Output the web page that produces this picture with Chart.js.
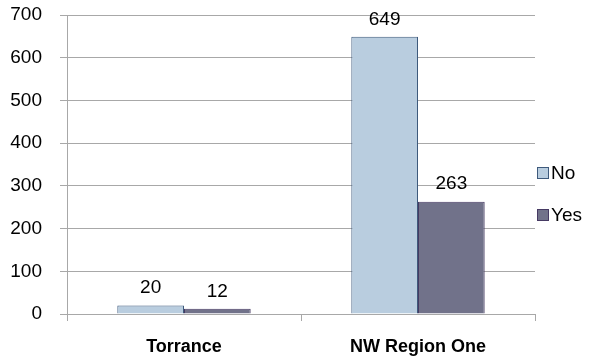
<!DOCTYPE html>
<html>
<head>
<meta charset="utf-8">
<script src="https://cdn.jsdelivr.net/npm/chart.js@4/dist/chart.umd.min.js"></script>
<style>
  body { margin: 0; background: #fff; }
  #wrap { position: relative; width: 591px; height: 362px; }
  #legend { position: absolute; left: 537px; top: 162px; font: 19px "Liberation Sans", Arial, sans-serif; color: #000; }
  .item { display: flex; align-items: center; height: 21px; margin-bottom: 21px; }
  .box { width: 12px; height: 12px; margin-right: 2px; box-sizing: border-box; border: 1px solid; }
</style>
</head>
<body>
<div id="wrap">
  <canvas id="chart" width="591" height="362"></canvas>
  <div id="legend"></div>
</div>
<script>
const categories = ['Torrance', 'NW Region One'];
const noValues = [20, 649];
const yesValues = [12, 263];
const yTicks = [0, 100, 200, 300, 400, 500, 600, 700];

const noColor = '#b9cddf', noBorder = '#3e5a7c';
const yesColor = '#71728a', yesBorder = '#463a63';
const gridColor = '#a8a8a8';
const font = '"Liberation Sans", Arial, sans-serif';

// value labels above each bar
const barLabels = {
  id: 'barLabels',
  afterDatasetsDraw(chart) {
    const ctx = chart.ctx;
    ctx.save();
    ctx.font = '19px ' + font;
    ctx.fillStyle = '#000';
    ctx.textAlign = 'center';
    ctx.textBaseline = 'bottom';
    chart.data.datasets.forEach((ds, i) => {
      chart.getDatasetMeta(i).data.forEach((bar, j) => {
        ctx.fillText(ds.data[j], bar.x, bar.y - 8);
      });
    });
    ctx.restore();
  }
};

const chart = new Chart(document.getElementById('chart'), {
  type: 'bar',
  data: {
    labels: categories,
    datasets: [
      { label: 'No', data: noValues, backgroundColor: noColor, borderColor: noBorder, borderWidth: 1 },
      { label: 'Yes', data: yesValues, backgroundColor: yesColor, borderColor: yesBorder, borderWidth: 1 }
    ]
  },
  options: {
    responsive: false,
    animation: false,
    layout: { padding: { top: 15, right: 56, left: 8, bottom: 0 } },
    datasets: { bar: { categoryPercentage: 0.57, barPercentage: 1.0 } },
    plugins: { legend: { display: false }, tooltip: { enabled: false } },
    scales: {
      x: {
        grid: { offset: true, drawOnChartArea: false, color: gridColor, tickLength: 7 },
        border: { color: gridColor },
        ticks: { color: '#000', font: { family: font, size: 18, weight: 'bold' }, padding: 15 },
        afterFit: (s) => { s.height = 48; }
      },
      y: {
        min: 0, max: 700,
        afterBuildTicks: (s) => { s.ticks = yTicks.map(v => ({ value: v })); },
        grid: { color: gridColor, tickLength: 7 },
        border: { color: gridColor },
        ticks: { color: '#000', font: { family: font, size: 19 }, padding: 18 },
        afterFit: (s) => { s.width = 59; s.paddingTop = 0; s.paddingBottom = 0; }
      }
    }
  },
  plugins: [barLabels]
});

// legend on the right
const legend = document.getElementById('legend');
chart.data.datasets.forEach(ds => {
  const item = document.createElement('div');
  item.className = 'item';
  const box = document.createElement('span');
  box.className = 'box';
  box.style.background = ds.backgroundColor;
  box.style.borderColor = ds.borderColor;
  item.appendChild(box);
  item.appendChild(document.createTextNode(ds.label));
  legend.appendChild(item);
});
</script>
</body>
</html>
